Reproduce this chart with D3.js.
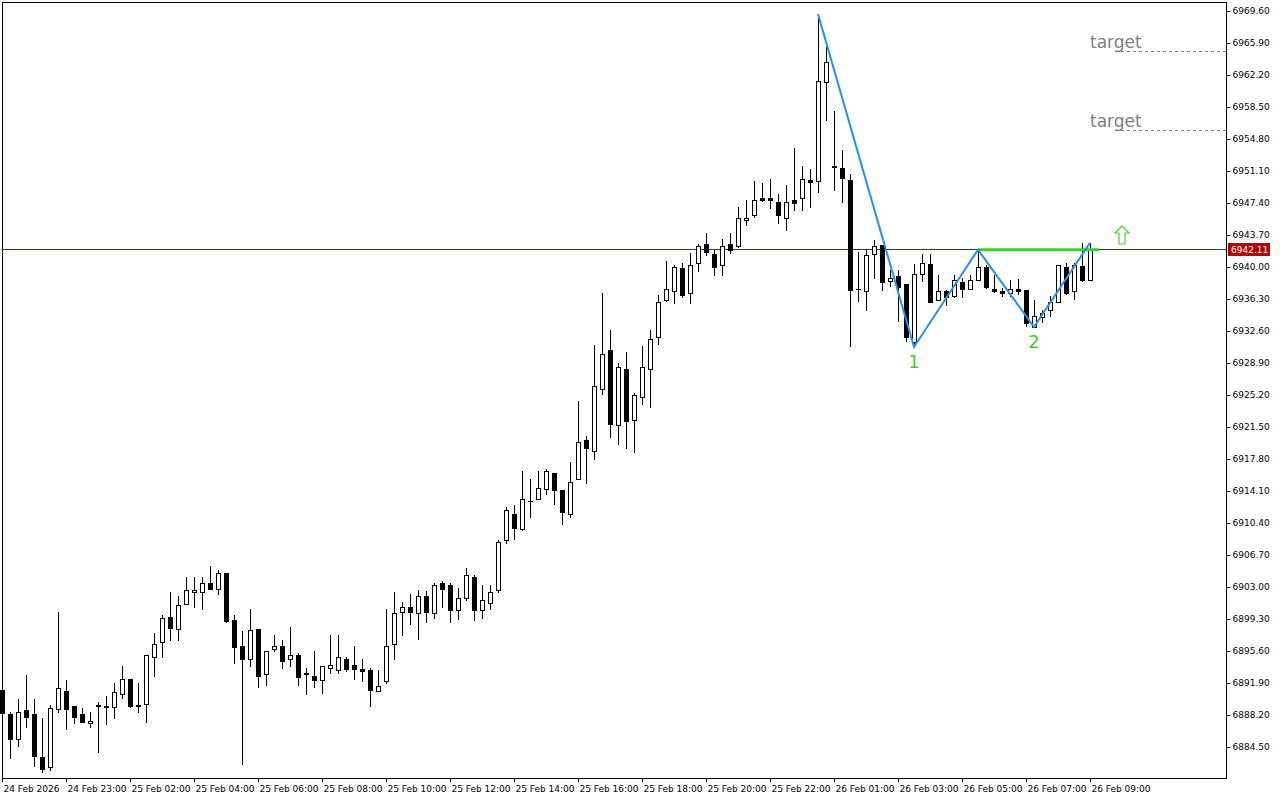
<!DOCTYPE html>
<html lang="en">
<head>
<meta charset="utf-8">
<title>Chart</title>
<script src="https://d3js.org/d3.v7.min.js"></script>
<style>
body { margin: 0; background: #fff; }
text { font-family: "DejaVu Sans", sans-serif; }
</style>
</head>
<body>
<div id="plotContent"></div>
<script>
// candles [open, high, low, close]
var candles = [
[6891.1,6891.3,6885.3,6888.4],[6888.3,6888.5,6883.1,6885.4],[6885.4,6890.0,6884.5,6888.5],[6888.8,6892.8,6886.7,6888.0],
[6888.3,6890.0,6882.2,6883.5],[6883.3,6887.9,6881.5,6882.0],[6882.2,6889.4,6881.7,6889.0],[6888.9,6900.1,6888.4,6891.3],
[6891.0,6892.2,6886.5,6888.9],[6889.2,6889.2,6887.2,6888.0],[6888.3,6889.0,6887.4,6887.4],[6887.3,6888.5,6886.7,6887.5],
[6889.2,6889.7,6883.8,6889.3],[6889.1,6890.4,6887.0,6889.2],[6889.1,6891.9,6887.7,6890.9],[6890.6,6893.9,6890.0,6892.4],
[6892.4,6892.4,6889.0,6889.2],[6889.2,6891.9,6888.4,6889.3],[6889.5,6895.1,6887.3,6895.1],[6894.9,6897.7,6892.6,6896.4],
[6896.6,6899.8,6894.8,6899.4],[6899.5,6902.4,6896.8,6898.3],[6898.1,6902.0,6896.8,6900.9],[6901.0,6904.2,6900.9,6902.7],
[6902.4,6904.2,6900.6,6902.7],[6902.4,6904.2,6900.3,6903.5],[6903.5,6905.4,6902.7,6902.8],[6902.8,6905.0,6902.1,6904.6],
[6904.6,6904.6,6898.8,6899.1],[6899.2,6899.8,6894.1,6896.1],[6896.2,6897.9,6882.4,6894.7],[6894.7,6900.5,6893.8,6898.0],
[6898.1,6898.1,6891.3,6892.7],[6892.9,6895.6,6891.6,6895.6],[6895.8,6897.5,6895.5,6896.2],[6896.2,6896.9,6893.5,6894.5],
[6894.7,6898.4,6893.8,6895.1],[6895.1,6895.4,6891.6,6892.6],[6892.9,6893.6,6890.5,6893.0],[6892.7,6895.6,6891.3,6892.2],
[6892.2,6893.9,6890.6,6893.9],[6893.6,6897.5,6892.9,6894.0],[6893.4,6897.5,6892.9,6894.9],[6894.7,6894.9,6893.2,6893.5],
[6894.0,6896.2,6892.2,6893.5],[6893.5,6894.7,6892.0,6893.3],[6893.4,6893.6,6889.1,6891.1],[6891.0,6893.4,6891.0,6891.6],
[6892.1,6900.5,6891.8,6896.2],[6896.4,6902.4,6894.6,6900.0],[6900.1,6901.3,6897.3,6900.7],[6900.7,6902.2,6898.6,6900.1],
[6900.0,6902.7,6896.9,6902.0],[6902.0,6902.5,6898.8,6900.1],[6900.0,6903.5,6899.3,6903.2],[6903.5,6903.7,6900.6,6902.8],
[6903.2,6903.5,6898.8,6900.3],[6900.3,6902.9,6899.2,6901.7],[6901.7,6905.2,6901.4,6904.4],[6904.2,6904.4,6899.1,6900.3],
[6900.3,6903.2,6899.3,6901.5],[6901.2,6903.2,6900.3,6902.4],[6902.7,6908.4,6902.3,6908.2],[6908.4,6912.3,6908.0,6911.9],
[6911.4,6912.5,6908.4,6909.8],[6909.7,6916.4,6909.5,6913.2],[6912.9,6915.5,6911.0,6913.0],[6913.2,6916.4,6913.1,6914.5],
[6914.3,6916.6,6913.6,6916.4],[6916.2,6916.2,6912.5,6914.2],[6914.2,6914.2,6910.2,6911.7],[6911.4,6917.5,6911.0,6915.1],
[6915.5,6924.5,6915.5,6919.8],[6920.0,6920.5,6914.9,6919.1],[6918.7,6931.0,6917.7,6926.2],[6925.9,6937.0,6925.2,6929.9],
[6930.4,6932.7,6920.2,6921.8],[6921.7,6928.9,6919.4,6928.4],[6928.2,6930.2,6919.0,6922.2],[6922.3,6925.4,6918.5,6925.2],
[6925.0,6930.9,6924.0,6928.4],[6928.2,6932.7,6923.7,6931.7],[6931.9,6936.8,6931.0,6935.9],[6936.2,6940.7,6936.0,6937.5],
[6937.2,6940.2,6935.7,6940.0],[6939.9,6940.5,6936.4,6936.8],[6937.0,6941.6,6935.7,6940.2],[6940.5,6942.7,6939.4,6942.4],
[6942.7,6943.9,6941.3,6941.7],[6941.5,6942.0,6939.0,6940.0],[6940.2,6943.2,6939.0,6942.4],[6942.7,6943.9,6941.5,6942.0],
[6942.4,6946.9,6942.2,6945.7],[6945.4,6947.8,6944.7,6945.7],[6946.0,6949.9,6945.7,6947.8],[6948.0,6949.7,6947.5,6947.8],
[6948.0,6950.2,6946.7,6947.8],[6947.5,6948.4,6945.0,6946.0],[6945.7,6949.5,6944.2,6947.5],[6947.8,6953.8,6946.5,6947.4],
[6948.0,6951.7,6946.5,6950.2],[6950.1,6951.3,6946.8,6949.8],[6949.9,6969.3,6948.6,6961.5],[6961.4,6965.4,6956.9,6963.7],
[6951.7,6958.0,6948.8,6951.6],[6951.5,6953.5,6947.4,6950.3],[6950.1,6950.8,6930.8,6937.3],[6937.4,6941.7,6936.0,6937.5],
[6937.2,6942.1,6934.9,6941.4],[6941.5,6943.1,6938.6,6942.4],[6942.5,6942.5,6937.2,6938.3],[6938.4,6939.7,6937.7,6938.7],
[6939.0,6939.7,6933.6,6937.7],[6938.0,6938.0,6931.3,6931.9],[6931.3,6940.3,6930.8,6939.2],[6939.2,6941.5,6938.3,6940.5],
[6940.3,6941.5,6936.0,6936.0],[6936.2,6939.1,6936.2,6937.2],[6937.2,6937.3,6935.5,6936.5],[6936.6,6939.1,6936.4,6938.5],
[6938.3,6938.7,6936.4,6937.5],[6937.5,6939.1,6937.3,6938.5],[6938.5,6942.0,6938.5,6940.0],[6940.0,6940.2,6937.5,6937.7],
[6937.5,6939.1,6937.0,6937.2],[6937.2,6937.6,6936.5,6937.0],[6937.0,6938.5,6936.5,6937.5],[6937.5,6938.6,6936.8,6937.2],
[6937.3,6937.3,6933.1,6933.5],[6933.1,6936.2,6933.1,6934.3],[6934.2,6935.0,6933.5,6934.7],[6935.0,6936.6,6934.2,6936.0],
[6936.0,6940.2,6935.8,6940.2],[6940.0,6940.5,6936.8,6937.0],[6937.2,6940.5,6936.2,6940.2],[6940.1,6942.8,6938.3,6938.5],
[6938.5,6942.8,6938.5,6942.11]
];
var priceTicks = [6969.60,6965.90,6962.20,6958.50,6954.80,6951.10,6947.40,6943.70,6940.00,6936.30,6932.60,6928.90,
  6925.20,6921.50,6917.80,6914.10,6910.40,6906.70,6903.00,6899.30,6895.60,6891.90,6888.20,6884.50];
var timeLabels = ["24 Feb 2026","24 Feb 23:00","25 Feb 02:00","25 Feb 04:00","25 Feb 06:00","25 Feb 08:00",
  "25 Feb 10:00","25 Feb 12:00","25 Feb 14:00","25 Feb 16:00","25 Feb 18:00","25 Feb 20:00","25 Feb 22:00",
  "26 Feb 01:00","26 Feb 03:00","26 Feb 05:00","26 Feb 07:00","26 Feb 09:00"];
var lastPrice = 6942.11;
// zigzag pivots [candle index, price]
var zigzag = [[102,6969.25],[114,6930.75],[122,6942.0],[129,6933.06],[136,6942.8]];
var pivotLabels = [[114,6930.75,"1"],[129,6933.06,"2"]];
var neckline = [[122,6942.0],[137,6942.0]];
var targets = [6964.98,6955.84];

var W = 1280, H = 800;
var plot = {left: 2, top: 2, right: 1226, bottom: 778};

var svg = d3.select("#plotContent").append("svg")
  .attr("width", W).attr("height", H);

var x = d3.scaleLinear().domain([0, 1]).range([2, 10]);
var y = d3.scaleLinear().domain([6884.5, 6969.6]).range([747, 11]);

// frame
svg.append("rect")
  .attr("x", plot.left + 0.5).attr("y", plot.top + 0.5)
  .attr("width", plot.right - plot.left).attr("height", plot.bottom - plot.top)
  .attr("fill", "none").attr("stroke", "#000");

// right axis
var yAxis = svg.append("g")
  .attr("transform", "translate(" + (plot.right + 0.5) + ",0)")
  .call(d3.axisRight(y).tickValues(priceTicks).tickFormat(d3.format(".2f")).tickSize(4).tickPadding(2));
yAxis.select(".domain").remove();
yAxis.selectAll("text").style("font-size", "9px").style("font-family", "DejaVu Sans");

// bottom labels
var xt = svg.append("g");
timeLabels.forEach(function (t, i) {
  var px = Math.round(x(i * 8)) + 0.5;
  xt.append("line").attr("x1", px).attr("x2", px).attr("y1", plot.bottom).attr("y2", plot.bottom + 4).attr("stroke", "#000");
  xt.append("text").attr("x", px + 1).attr("y", 792).attr("font-size", "9px").text(t);
});

// current price line
svg.append("line")
  .attr("x1", plot.left).attr("x2", plot.right)
  .attr("y1", Math.round(y(lastPrice)) + 0.5).attr("y2", Math.round(y(lastPrice)) + 0.5)
  .attr("stroke", "#b00000").attr("stroke-width", 1);

// candles
var g = svg.append("g").attr("shape-rendering", "crispEdges");
candles.forEach(function (c, i) {
  var cx = Math.round(x(i)) + 0.5;
  var o = y(c[0]), h = y(c[1]), l = y(c[2]), cl = y(c[3]);
  var top = Math.round(Math.min(o, cl)), bot = Math.round(Math.max(o, cl));
  g.append("line").attr("x1", cx).attr("x2", cx).attr("y1", Math.round(h)).attr("y2", Math.round(l)).attr("stroke", "#000");
  if (bot - top < 1) {
    g.append("line").attr("x1", cx - 2.5).attr("x2", cx + 2.5).attr("y1", top + 0.5).attr("y2", top + 0.5).attr("stroke", "#000");
  } else {
    g.append("rect").attr("x", cx - 2).attr("y", top + 0.5).attr("width", 4).attr("height", bot - top)
      .attr("fill", c[3] >= c[0] ? "#fff" : "#000").attr("stroke", "#000");
  }
});

// neckline
svg.append("line")
  .attr("x1", x(neckline[0][0])).attr("x2", x(neckline[1][0]) + 1)
  .attr("y1", y(neckline[0][1])).attr("y2", y(neckline[1][1]))
  .attr("stroke", "#3fcf2f").attr("stroke-width", 3);

// zigzag
svg.append("path")
  .attr("d", d3.line().x(function (d) { return x(d[0]); }).y(function (d) { return y(d[1]); })(zigzag))
  .attr("fill", "none").attr("stroke", "#1e90ff").attr("stroke-width", 2);

pivotLabels.forEach(function (p) {
  svg.append("text").attr("x", x(p[0])).attr("y", y(p[1]) + 21)
    .attr("text-anchor", "middle").attr("font-size", "18px").attr("font-family", "Liberation Sans")
    .attr("fill", "#3fcf2f").text(p[2]);
});

// targets
targets.forEach(function (t) {
  var ty = Math.round(y(t)) + 0.5;
  svg.append("line").attr("x1", 1115).attr("x2", plot.right).attr("y1", ty).attr("y2", ty)
    .attr("stroke", "#808080").attr("stroke-dasharray", "3,3");
  svg.append("text").attr("x", 1090).attr("y", ty - 4).attr("font-size", "17px")
    .attr("font-family", "Liberation Sans").attr("fill", "#808080").text("target");
});

// up arrow
var ax = x(140), ay = y(6943.7);
svg.append("path")
  .attr("d", "M" + ax + "," + (ay - 9) + " L" + (ax + 7) + "," + (ay - 2) + " L" + (ax + 3) + "," + (ay - 2) +
    " L" + (ax + 3) + "," + (ay + 9) + " L" + (ax - 3) + "," + (ay + 9) + " L" + (ax - 3) + "," + (ay - 2) +
    " L" + (ax - 7) + "," + (ay - 2) + "Z")
  .attr("fill", "#fff").attr("stroke", "#4ccf3a").attr("stroke-width", 1.2);

// price label
var ly = Math.round(y(lastPrice));
svg.append("rect").attr("x", plot.right + 2).attr("y", ly - 6).attr("width", 42).attr("height", 13).attr("fill", "#c00000");
svg.append("text").attr("x", plot.right + 5).attr("y", ly + 4).attr("font-size", "9px").attr("fill", "#fff").text(d3.format(".2f")(lastPrice));
</script>
</body>
</html>
